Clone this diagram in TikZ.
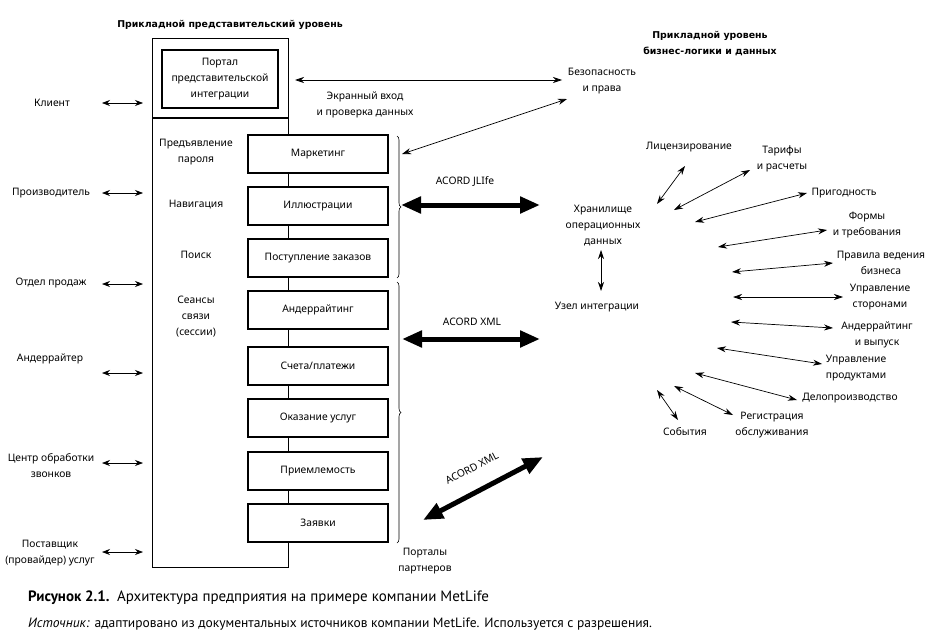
\documentclass[tikz,border=0pt]{standalone}
\usepackage{fontspec}
\setmainfont{Noto Sans}
\newfontfamily\capfont{PT Sans}
\newfontfamily\hdrfont{DejaVu Sans}
\usetikzlibrary{arrows.meta,decorations.pathreplacing}
\begin{document}
\begin{tikzpicture}[x=1pt,y=-1pt,
  every node/.style={font=\fontsize{10.3}{16}\selectfont, align=center, inner sep=0pt},
  hdr/.style={font=\hdrfont\bfseries\fontsize{9.4}{16}\selectfont},
  modbox/.style={draw, line width=1.8pt, fill=white, minimum width=140pt, minimum height=38pt, inner sep=0pt},
  thinarr/.style={{Stealth[length=9pt,width=6pt]}-{Stealth[length=9pt,width=6pt]}, line width=0.7pt},
  sidearr/.style={{Stealth[length=8pt,width=6pt]}-{Stealth[length=8pt,width=6pt]}, line width=0.7pt},
  thickarr/.style={{Triangle[length=20pt,width=16pt]}-{Triangle[length=20pt,width=16pt]}, line width=5pt},
  brc/.style={decorate, decoration={brace, amplitude=4pt}, line width=0.6pt}]
\useasboundingbox (0,0) rectangle (936,634);

% headings
\node[hdr] (h1) at (230,25) {Прикладной представительский уровень};
\node[hdr] (h2) at (710,44) {Прикладной уровень\\бизнес-логики и данных};

% outer frame
\draw[line width=0.9pt] (152,38) rectangle (288,567);
\draw[line width=1.8pt] (152,118) -- (288,118);
\node[draw, line width=1.8pt, minimum width=116pt, minimum height=58pt] (portal) at (220,79) {Портал\\представительской\\интеграции};

% inner left labels
\node (pwd) at (196,152) {Предъявление\\пароля};
\node (nav) at (196,205) {Навигация};
\node (srch) at (196,255) {Поиск};
\node (sess) at (196,317) {Сеансы\\связи\\(сессии)};

% modules
\node[modbox] (m1) at (318,154) {Маркетинг};
\node[modbox] (m2) at (318,206) {Иллюстрации};
\node[modbox] (m3) at (318,258) {Поступление заказов};
\node[modbox] (m4) at (318,310) {Андеррайтинг};
\node[modbox] (m5) at (318,366) {Счета/платежи};
\node[modbox] (m6) at (318,418) {Оказание услуг};
\node[modbox] (m7) at (318,471) {Приемлемость};
\node[modbox] (m8) at (318,523) {Заявки};

% left external actors
\node (a1) at (52,103) {Клиент};
\node (a2) at (51,193) {Производитель};
\node (a3) at (51,283) {Отдел продаж};
\node (a4) at (50,359) {Андеррайтер};
\node (a5) at (51,466) {Центр обработки\\звонков};
\node (a6) at (50,553) {Поставщик\\(провайдер) услуг};
\foreach \n/\yy in {1/103,2/193,3/284,4/373,5/463,6/552}{
  \coordinate (la\n) at (102,\yy);
  \coordinate (lb\n) at (143,\yy);
  \draw[sidearr] (la\n) -- (lb\n);
}

% braces
\coordinate (b1t) at (397,136);
\coordinate (b1b) at (397,278);
\coordinate (b2t) at (397,282);
\coordinate (b2b) at (397,543);
\draw[brc] (b1t) -- (b1b);
\draw[brc] (b2t) -- (b2b);
\node (partn) at (425,561) {Порталы\\партнеров};

% security
\node (sec) at (602,81) {Безопасность\\и права};
\node (scr) at (365,105) {Экранный вход\\и проверка данных};
\coordinate (pa) at (295,80);
\coordinate (pb) at (562,80);
\draw[thinarr] (pa) -- (pb);
\coordinate (da) at (402,154);
\coordinate (db) at (567,99);
\draw[thinarr] (da) -- (db);

% thick arrows
\node (acj) at (465,182) {ACORD JLIfe};
\coordinate (t1a) at (401,205);
\coordinate (t1b) at (540,205);
\draw[thickarr] (t1a) -- (t1b);
\node (acx) at (472,322) {ACORD XML};
\coordinate (t2a) at (402,339);
\coordinate (t2b) at (540,339);
\draw[thickarr] (t2a) -- (t2b);
\coordinate (t3a) at (423,520);
\coordinate (t3b) at (543,457);
\draw[thickarr] (t3a) -- (t3b);
\node[rotate=27.7] (acx2) at (472,468) {ACORD XML};

% center
\node (ods) at (603,226) {Хранилище\\операционных\\данных};
\node (hub) at (597,307) {Узел интеграции};
\coordinate (va) at (601,250);
\coordinate (vb) at (601,291);
\draw[thinarr] (va) -- (vb);

% right services
\node (r1) at (689,147) {Лицензирование};
\node (r2) at (782,159) {Тарифы\\и расчеты};
\node (r3) at (844,193) {Пригодность};
\node (r4) at (867,225) {Формы\\и требования};
\node (r5) at (881,263) {Правила ведения\\бизнеса};
\node (r6) at (880,297) {Управление\\сторонами};
\node (r7) at (877,335) {Андеррайтинг\\и выпуск};
\node (r8) at (856,368) {Управление\\продуктами};
\node (r9) at (850,398) {Делопроизводство};
\node (r10) at (772,425) {Регистрация\\обслуживания};
\node (r11) at (685,432) {События};
\foreach \n/\ax/\ay/\bx/\by in {1/657/204/685/166, 2/674/210/750/170, 3/695/222/807/193,
  4/718/247/827/230, 5/732/272/833/263, 6/733/297/843/297, 7/731/322/833/328,
  8/717/348/822/364, 9/695/373/797/400, 10/674/386/733/415, 11/657/390/678/420}{
  \coordinate (ra\n) at (\ax,\ay);
  \coordinate (rb\n) at (\bx,\by);
  \draw[thinarr] (ra\n) -- (rb\n);
}

% caption
\node[anchor=base west, font=\capfont\fontsize{15}{18}\selectfont] (cap) at (28,601)
  {\textbf{Рисунок 2.1.}\enspace Архитектура предприятия на примере компании MetLife};
\node[anchor=base west, font=\capfont\fontsize{13.5}{16}\selectfont] (src) at (28,627)
  {\textit{Источник:} адаптировано из документальных источников компании MetLife. Используется с разрешения.};
\end{tikzpicture}
\end{document}
